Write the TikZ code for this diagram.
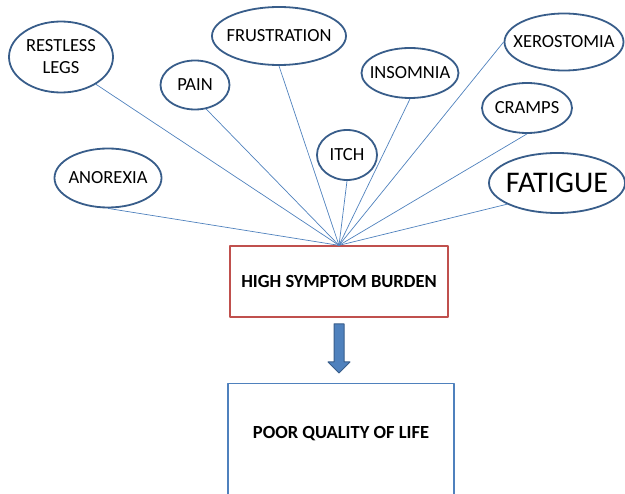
\documentclass[tikz,border=0pt]{standalone}
\usepackage{fontspec}
\setmainfont{Carlito}
\usetikzlibrary{shapes.geometric}
\definecolor{ringblue}{HTML}{385D8A}
\definecolor{lineblue}{HTML}{4F81BD}
\definecolor{boxred}{HTML}{C0504D}

\begin{document}
\begin{tikzpicture}[x=1pt,y=-1pt, line join=round,
  symptom/.style={ellipse,draw=ringblue,line width=1.8pt,inner sep=0pt},
  symtext/.style={align=center,inner sep=0pt,font=\fontsize{18.5}{22}\selectfont},
  spoke/.style={lineblue,line width=0.7pt}]
\useasboundingbox (0,0) rectangle (625,494);
\clip (0,0) rectangle (625,494);
% symptoms
\node[symptom,minimum width=104,minimum height=71,label={[symtext]center:RESTLESS\\LEGS}] (legs) at (61,57) {};
\node[symptom,minimum width=69,minimum height=49,label={[symtext]center:PAIN}] (pain) at (195,85) {};
\node[symptom,minimum width=134,minimum height=58,label={[symtext]center:FRUSTRATION}] (frus) at (279,36) {};
\node[symptom,minimum width=107,minimum height=59,label={[symtext]center:ANOREXIA}] (anor) at (108,178) {};
\node[symptom,minimum width=97,minimum height=50,label={[symtext]center:INSOMNIA}] (insom) at (410,73) {};
\node[symptom,minimum width=60,minimum height=50,label={[symtext]center:ITCH}] (itch) at (347,155) {};
\node[symptom,minimum width=119,minimum height=57,label={[symtext]center:XEROSTOMIA}] (xero) at (564,42) {};
\node[symptom,minimum width=90,minimum height=50,label={[symtext]center:CRAMPS}] (cramps) at (527,108) {};
\node[symptom,minimum width=136,minimum height=60,
  label={[symtext,font=\fontsize{30}{34}\selectfont]center:FATIGUE}] (fat) at (557,183) {};
% boxes
\node[draw=boxred,line width=1.3pt,minimum width=218,minimum height=71,
  font=\fontsize{18.5}{22}\selectfont\bfseries] (burden) at (339,281.5) {HIGH SYMPTOM BURDEN};
\node[draw=lineblue,line width=1.3pt,minimum width=226,minimum height=140,anchor=north] (qol) at (341,383) {};
\node[font=\fontsize{18.5}{22}\selectfont\bfseries] (qoltext) at (341,434) {POOR QUALITY OF LIFE};
% spokes into the burden box
\foreach \n/\a in {legs/-38,pain/-65,frus/south,anor/south,insom/south,
  itch/south,xero/west,cramps/south,fat/-157}
  \draw[spoke] (\n.\a) -- (burden.north);
% block arrow
\draw[ringblue,fill=lineblue,line width=1pt] (334,324) -- (344,324) -- (344,362)
  -- (350,362) -- (339,373) -- (328,362) -- (334,362) -- cycle;
\end{tikzpicture}
\end{document}
